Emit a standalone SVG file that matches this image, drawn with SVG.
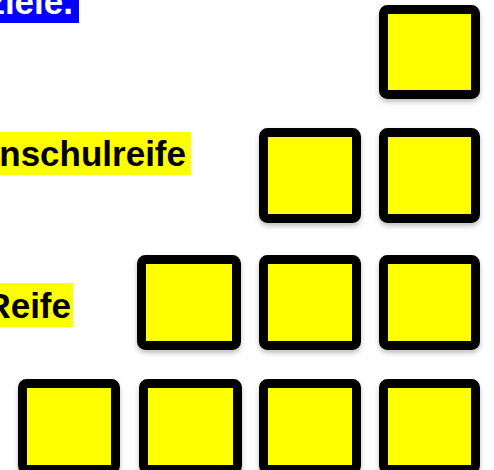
<svg xmlns="http://www.w3.org/2000/svg" width="494" height="470" viewBox="0 0 494 470">
<style>
.sq{fill:#ffff00;stroke:#000;stroke-width:9;filter:url(#sh)}
.lbl{font-family:"Liberation Sans",Arial,sans-serif;font-weight:bold;font-size:35px;text-anchor:end}
</style>
<defs>
<filter id="sh" x="-10%" y="-10%" width="120%" height="130%">
<feDropShadow dx="0" dy="3" stdDeviation="2.5" flood-color="#000" flood-opacity="0.25"/>
</filter>
</defs>
<rect width="494" height="470" fill="#fff"/>
<g id="labels">
<g id="label-ziele"><rect x="0" y="0" width="79" height="23" fill="#0000ff"/><text class="lbl" x="73" y="14" fill="#fff">ziele.</text></g>
<g id="label-schulreife"><rect x="0" y="132" width="191" height="43" fill="#ffff00"/><text class="lbl" x="186" y="166" fill="#000">nschulreife</text></g>
<g id="label-reife"><rect x="0" y="283" width="73" height="44" fill="#ffff00"/><text class="lbl" x="71" y="318" fill="#000">Reife</text></g>
</g>
<g id="connectors"/>
<g id="r1c4"><rect class="sq" x="383.5" y="9.5" width="92" height="85" rx="4"/></g>
<g id="r2c3"><rect class="sq" x="263.5" y="132.5" width="93" height="86" rx="4"/></g>
<g id="r2c4"><rect class="sq" x="383.5" y="132.5" width="92" height="86" rx="4"/></g>
<g id="r3c2"><rect class="sq" x="141.5" y="259.5" width="95" height="86" rx="4"/></g>
<g id="r3c3"><rect class="sq" x="263.5" y="259.5" width="93" height="86" rx="4"/></g>
<g id="r3c4"><rect class="sq" x="383.5" y="259.5" width="92" height="86" rx="4"/></g>
<g id="r4c1"><rect class="sq" x="22.5" y="383.5" width="93" height="86" rx="4"/></g>
<g id="r4c2"><rect class="sq" x="143.5" y="383.5" width="94" height="86" rx="4"/></g>
<g id="r4c3"><rect class="sq" x="263.5" y="383.5" width="93" height="86" rx="4"/></g>
<g id="r4c4"><rect class="sq" x="383.5" y="383.5" width="92" height="86" rx="4"/></g>
</svg>
